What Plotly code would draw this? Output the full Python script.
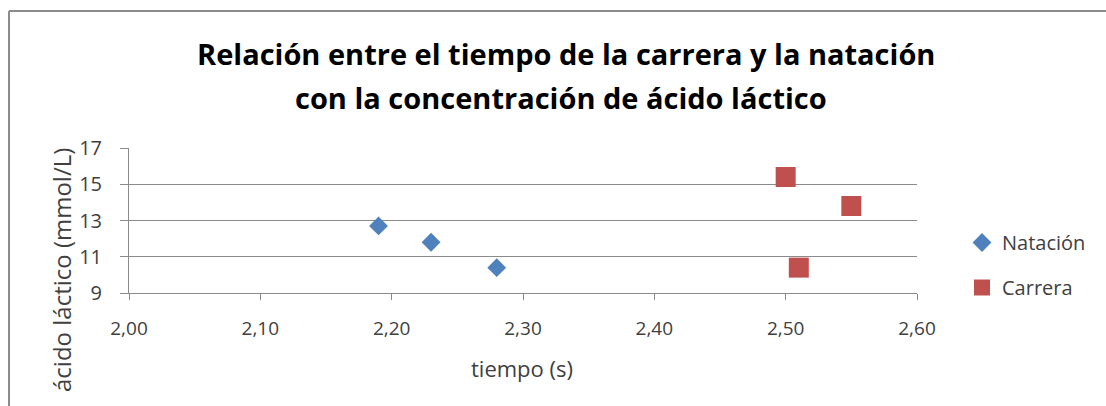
import plotly.graph_objects as go

# Data
natacion_t = [2.19, 2.23, 2.28]
natacion_lac = [12.7, 11.8, 10.4]
carrera_t = [2.50, 2.55, 2.51]
carrera_lac = [15.4, 13.8, 10.4]

title_lines = ["Relación entre el tiempo de la carrera y la natación",
               "con la concentración de ácido láctico"]
x_title = "tiempo (s)"
y_title = "ácido láctico (mmol/L)"
x_ticks = [2.0, 2.1, 2.2, 2.3, 2.4, 2.5, 2.6]
y_ticks = [9, 11, 13, 15, 17]

W, H = 1106, 406
L, R, T, B = 129, 189, 148, 113
pw, ph = W - L - R, H - T - B

def px_x(p):
    return (p - L) / pw

def px_y(p):
    return (H - B - p) / ph

FONT = "Open Sans, sans-serif"

fig = go.Figure()
fig.add_trace(go.Scatter(
    x=natacion_t, y=natacion_lac, mode="markers", name="Natación",
    legendgroup="a",
    marker=dict(symbol="diamond", size=14.5, color="#4F81BD"),
))
fig.add_trace(go.Scatter(
    x=carrera_t, y=carrera_lac, mode="markers", name="Carrera",
    legendgroup="b",
    marker=dict(symbol="square", size=20, color="#C0504D"),
))

grid = "#8a8a8a"
fig.update_layout(
    width=W, height=H,
    margin=dict(l=L, r=R, t=T, b=B, pad=0),
    paper_bgcolor="white", plot_bgcolor="white",
    separators=",.",
    font=dict(family=FONT, size=16, color="#404040"),
    showlegend=True,
    legend=dict(
        x=px_x(962), y=px_y(265), xanchor="left", yanchor="middle",
        font=dict(size=20, color="#404040"),
        tracegroupgap=16, traceorder="grouped",
        itemwidth=30, bgcolor="rgba(0,0,0,0)",
    ),
    xaxis=dict(
        range=[2.0, 2.6], tickvals=x_ticks, tickformat=".2f",
        showgrid=False, zeroline=False,
        showline=True, linecolor=grid, linewidth=1,
        ticks="outside", ticklen=6, tickcolor=grid,
        ticklabelstandoff=12,
        tickfont=dict(size=19, color="#404040"),
    ),
    yaxis=dict(
        range=[9, 17], tickvals=y_ticks,
        showgrid=True, gridcolor=grid, gridwidth=1, zeroline=False,
        showline=True, linecolor=grid, linewidth=1,
        ticks="outside", ticklen=8, tickcolor=grid,
        ticklabelstandoff=14,
        tickfont=dict(size=20, color="#404040"),
    ),
    annotations=[
        dict(text=title_lines[0], xref="paper", yref="paper",
             x=px_x(566), y=px_y(53), xanchor="center", yanchor="middle",
             showarrow=False, font=dict(size=29, color="#000000", family=FONT, weight="bold")),
        dict(text=title_lines[1], xref="paper", yref="paper",
             x=px_x(561), y=px_y(97), xanchor="center", yanchor="middle",
             showarrow=False, font=dict(size=29, color="#000000", family=FONT, weight="bold")),
        dict(text=x_title, xref="paper", yref="paper",
             x=px_x(522), y=px_y(368), xanchor="center", yanchor="middle",
             showarrow=False, font=dict(size=22, color="#404040", family=FONT)),
        dict(text=y_title, xref="paper", yref="paper", textangle=-90,
             x=px_x(61), y=px_y(270), xanchor="center", yanchor="middle",
             showarrow=False, font=dict(size=24, color="#404040", family=FONT)),
    ],
    shapes=[
        dict(type="line", xref="paper", yref="paper",
             x0=px_x(9), x1=px_x(1106), y0=px_y(11), y1=px_y(11),
             line=dict(color="#8c8c8c", width=2)),
        dict(type="line", xref="paper", yref="paper",
             x0=px_x(9), x1=px_x(9), y0=px_y(11), y1=px_y(406),
             line=dict(color="#8c8c8c", width=2)),
    ],
)

fig.write_html("out.html")
